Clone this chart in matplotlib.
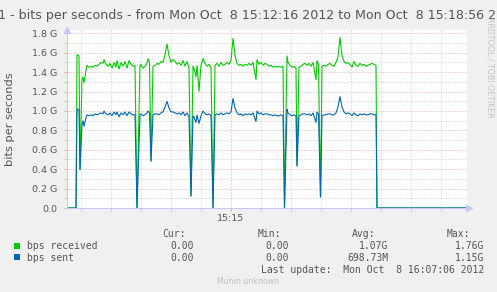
import matplotlib
matplotlib.use("Agg")
import matplotlib.pyplot as plt
from matplotlib.patches import Rectangle
from matplotlib.ticker import MultipleLocator, FixedLocator, FuncFormatter

# seconds after Mon Oct 8 15:12:16 2012
t_sec = [0, 9, 10, 12, 13, 15, 16, 17, 19, 20, 22, 24, 26, 28, 30, 32, 34, 36, 37, 39,
         41, 43, 45, 47, 49, 50, 52, 54, 56, 58, 60, 62, 64, 66, 68, 70, 73, 74, 76, 78,
         80, 81, 82.5, 84, 86, 88, 90, 92, 94, 96, 98, 100, 102, 104, 106, 108, 110, 112, 114, 116,
         118, 120, 122, 124, 126, 127, 129, 130, 132, 134, 136, 138, 140, 142, 144, 146, 148, 150, 152, 154,
         156, 158, 160, 162, 164, 166, 168, 170, 172, 174, 176, 178, 180, 182, 184, 186, 189, 190, 192, 194,
         196, 198, 200, 202, 204, 206, 208, 210, 212, 214, 216, 217.5, 220, 221, 223, 225, 227, 229, 230, 232,
         234, 236, 238, 240, 242, 244, 246, 249, 250, 251.5, 253.5, 255, 257, 259, 261, 263, 265, 267, 269, 271,
         273, 275, 277, 279, 281, 283, 285, 287, 289, 291, 293, 295, 297, 299, 301, 303, 305, 307, 309, 310,
         400]
# bits per second, in G
received_g = [0, 0, 1.58, 1.57, 0.40, 1.33, 1.35, 1.29, 1.42, 1.47, 1.45, 1.46, 1.45, 1.47, 1.46, 1.48, 1.50, 1.49, 1.53, 1.48,
              1.46, 1.49, 1.44, 1.50, 1.45, 1.52, 1.43, 1.50, 1.46, 1.51, 1.44, 1.52, 1.48, 1.46, 1.47, 0.00, 1.47, 1.48, 1.44, 1.46,
              1.49, 1.54, 1.50, 0.48, 1.46, 1.47, 1.49, 1.48, 1.51, 1.50, 1.58, 1.69, 1.57, 1.50, 1.53, 1.51, 1.48, 1.50, 1.47, 1.52,
              1.46, 1.51, 1.44, 0.12, 1.46, 1.44, 1.35, 1.47, 1.20, 1.47, 1.54, 1.49, 1.46, 1.48, 1.45, 0.00, 1.47, 1.49, 1.46, 1.50,
              1.47, 1.48, 1.50, 1.48, 1.52, 1.75, 1.57, 1.49, 1.47, 1.48, 1.46, 1.48, 1.47, 1.49, 1.47, 1.50, 1.32, 1.53, 1.48, 1.50,
              1.47, 1.49, 1.48, 1.46, 1.47, 1.45, 1.46, 1.45, 1.46, 1.45, 1.46, 0.00, 1.57, 1.50, 1.47, 1.45, 1.46, 1.44, 0.43, 1.45,
              1.46, 1.48, 1.49, 1.47, 1.49, 1.46, 1.50, 1.32, 1.52, 1.48, 0.11, 1.46, 1.47, 1.46, 1.48, 1.49, 1.47, 1.46, 1.50, 1.56,
              1.76, 1.57, 1.51, 1.49, 1.50, 1.48, 1.45, 1.51, 1.47, 1.46, 1.49, 1.47, 1.48, 1.46, 1.47, 1.48, 1.49, 1.48, 1.47, 0.00,
              0.00]
sent_g = [0, 0, 1.02, 1.01, 0.39, 0.86, 0.90, 0.84, 0.93, 0.96, 0.95, 0.96, 0.95, 0.97, 0.96, 0.97, 0.98, 0.97, 1.00, 0.97,
          0.96, 0.98, 0.95, 0.99, 0.96, 0.99, 0.94, 0.98, 0.96, 0.99, 0.95, 0.99, 0.97, 0.96, 0.96, 0.00, 0.96, 0.97, 0.95, 0.96,
          0.98, 1.00, 0.98, 0.48, 0.96, 0.97, 0.97, 0.96, 0.98, 0.99, 1.04, 1.10, 1.03, 0.99, 0.99, 0.98, 0.97, 0.98, 0.96, 0.99,
          0.95, 0.98, 0.94, 0.12, 0.95, 0.94, 0.88, 0.96, 0.87, 0.95, 1.00, 0.97, 0.96, 0.97, 0.95, 0.00, 0.96, 0.97, 0.96, 0.98,
          0.96, 0.97, 0.98, 0.97, 0.99, 1.13, 1.03, 0.98, 0.96, 0.97, 0.95, 0.97, 0.96, 0.97, 0.96, 0.98, 0.89, 1.00, 0.97, 0.98,
          0.96, 0.97, 0.97, 0.96, 0.96, 0.95, 0.96, 0.95, 0.95, 0.96, 0.95, 0.00, 1.02, 0.98, 0.96, 0.95, 0.96, 0.95, 0.43, 0.95,
          0.96, 0.97, 0.97, 0.96, 0.97, 0.95, 0.98, 0.88, 0.99, 0.97, 0.11, 0.95, 0.96, 0.96, 0.97, 0.97, 0.96, 0.96, 0.98, 1.04,
          1.15, 1.04, 0.99, 0.97, 0.98, 0.97, 0.95, 0.98, 0.96, 0.95, 0.97, 0.96, 0.97, 0.96, 0.96, 0.97, 0.97, 0.96, 0.96, 0.00,
          0.00]

series_names = ["bps received", "bps sent"]
series_colors = ["#00CC00", "#0066B3"]
cur_vals = ["0.00", "0.00"]
min_vals = ["0.00", "0.00"]
avg_vals = ["1.07G", "698.73M"]
max_vals = ["1.76G", "1.15G"]
title = "1 - bits per seconds - from Mon Oct  8 15:12:16 2012 to Mon Oct  8 15:18:56 2012"
ylabel = "bits per seconds"
xtick_pos = [164]
xtick_labels = ["15:15"]
last_update = "Last update:  Mon Oct  8 16:07:06 2012"

W, H = 497, 292
def P(x, y):
    return (x / W, 1 - y / H)

TXT = "#555555"
RED = "#e8a8a8"
GRY = "#c8c8c8"
AX = "#c4c8f4"
DOT = (0, (1, 2))
LW = 0.72

fig = plt.figure(figsize=(W / 100, H / 100), dpi=100, facecolor="#f0f0f0")
ax = fig.add_axes([67 / W, 84 / H, 400 / W, 178 / H])
ax.set_facecolor("white")
ax.set_xlim(0, 400)
ax.set_ylim(0, 1.834)

ax.yaxis.set_major_locator(MultipleLocator(0.2))
ax.yaxis.set_minor_locator(MultipleLocator(0.1))
ax.yaxis.set_major_formatter(FuncFormatter(lambda v, p: "0.0" if abs(v) < 1e-9 else f"{v:.1f} G"))
ax.xaxis.set_major_locator(FixedLocator(xtick_pos))
ax.xaxis.set_major_formatter(FuncFormatter(lambda v, p: xtick_labels[xtick_pos.index(int(round(v)))] if int(round(v)) in xtick_pos else ""))
ax.xaxis.set_minor_locator(FixedLocator(list(range(14, 400, 30))))

ax.set_axisbelow(True)
ax.yaxis.grid(True, which="major", color=RED, linestyle=DOT, linewidth=LW)
ax.yaxis.grid(True, which="minor", color=GRY, linestyle=DOT, linewidth=LW)
ax.xaxis.grid(True, which="major", color=RED, linestyle=DOT, linewidth=LW)
ax.xaxis.grid(True, which="minor", color=GRY, linestyle=DOT, linewidth=LW)

ax.tick_params(axis="y", which="major", length=2.2, width=LW, color=RED, labelsize=6.8, labelcolor=TXT, pad=4.5)
ax.tick_params(axis="y", which="minor", length=2.2, width=LW, color=GRY)
ax.tick_params(axis="x", which="major", length=2.5, width=LW, color=RED, labelsize=6.8, labelcolor=TXT, pad=1.5)
ax.tick_params(axis="x", which="minor", length=2.5, width=LW, color=GRY)

for s in ["top", "right"]:
    ax.spines[s].set_visible(False)
for s in ["left", "bottom"]:
    ax.spines[s].set_color(AX)
    ax.spines[s].set_linewidth(LW)

ax.plot(t_sec, received_g, color=series_colors[0], linewidth=0.8, solid_joinstyle="miter")
ax.plot(t_sec, sent_g, color=series_colors[1], linewidth=0.8, solid_joinstyle="miter")

# axis arrows
ax.plot([0], [1.834], marker="^", color=AX, markersize=4, clip_on=False, zorder=5)
ax.plot([402], [0], marker=">", color=AX, markersize=4, clip_on=False, zorder=5)

ax.set_ylabel(ylabel, fontsize=8.2, color=TXT)
ax.yaxis.set_label_coords(-52 / 400, 0.5)

fig.text(*P(-2, 18.5), title, fontsize=9.1, color=TXT, ha="left", va="baseline")

fig.text(*P(490, 17), "RRDTOOL / TOBI OETIKER", fontsize=5.7, color="#c4c4c4",
         rotation=270, ha="center", va="top")

mono = "DejaVu Sans Mono"
LF = 7.0
fig.text(*P(186, 236.7), "Cur:", family=mono, fontsize=LF, color=TXT, ha="right", va="baseline")
fig.text(*P(281, 236.7), "Min:", family=mono, fontsize=LF, color=TXT, ha="right", va="baseline")
fig.text(*P(375, 236.7), "Avg:", family=mono, fontsize=LF, color=TXT, ha="right", va="baseline")
fig.text(*P(470, 236.7), "Max:", family=mono, fontsize=LF, color=TXT, ha="right", va="baseline")

rows_y = [249, 261]
sq_top = [242.7, 254.3]
for i in range(2):
    y = rows_y[i]
    fig.add_artist(Rectangle(P(14, sq_top[i] + 6), 6 / W, 6 / H, transform=fig.transFigure,
                             facecolor=series_colors[i], edgecolor="none"))
    fig.text(*P(27, y), series_names[i], family=mono, fontsize=LF, color=TXT, ha="left", va="baseline")
    fig.text(*P(194, y), cur_vals[i], family=mono, fontsize=LF, color=TXT, ha="right", va="baseline")
    fig.text(*P(289, y), min_vals[i], family=mono, fontsize=LF, color=TXT, ha="right", va="baseline")
    fig.text(*P(388, y), avg_vals[i], family=mono, fontsize=LF, color=TXT, ha="right", va="baseline")
    fig.text(*P(484, y), max_vals[i], family=mono, fontsize=LF, color=TXT, ha="right", va="baseline")

fig.text(*P(484, 272.7), last_update, family=mono, fontsize=LF, color=TXT, ha="right", va="baseline")
fig.text(*P(217, 284), "Munin unknown", fontsize=5.6, color="#c0c0c0", ha="left", va="baseline")

fig.savefig("out.png", dpi=100, facecolor=fig.get_facecolor())
